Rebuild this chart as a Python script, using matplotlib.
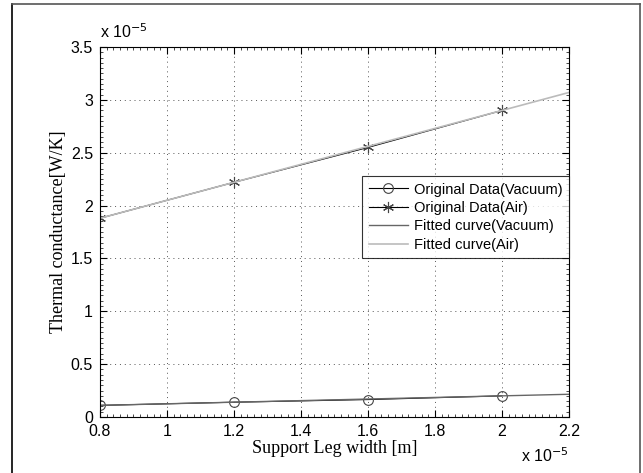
import numpy as np
import matplotlib.pyplot as plt
from matplotlib.lines import Line2D
from matplotlib.ticker import MultipleLocator

# data (x in 1e-5 m, y in 1e-5 W/K)
width = [0.8, 1.2, 1.6, 2.0]
g_vacuum = [0.11, 0.14, 0.165, 0.20]
g_air = [1.88, 2.22, 2.55, 2.90]

fit_x = [0.8, 2.2]
fit_vacuum = [0.11, 0.215]
fit_air = [1.88, 3.07]

plt.rcParams['font.family'] = ['Liberation Sans', 'DejaVu Sans']

fig = plt.figure(figsize=(6.43, 4.73), dpi=100)
ax = fig.add_axes([100 / 643, 1 - 417 / 473, 469 / 643, 370 / 473])

ax.plot(width, g_vacuum, color='black', lw=0.8, marker='o', ms=7,
        mfc='none', mec='#444444', mew=0.8, label='Original Data(Vacuum)')
ax.plot(width, g_air, color='black', lw=0.8, marker=(6, 2, 0), ms=8,
        mfc='none', mec='#444444', mew=0.8, label='Original Data(Air)')
ax.plot(fit_x, fit_vacuum, color='#666666', lw=1.0, label='Fitted curve(Vacuum)')
ax.plot(fit_x, fit_air, color='#bbbbbb', lw=1.2, label='Fitted curve(Air)')

ax.set_xlim(0.8, 2.2)
ax.set_ylim(0, 3.5)
ax.xaxis.set_major_locator(MultipleLocator(0.2))
ax.yaxis.set_major_locator(MultipleLocator(0.5))
ax.xaxis.set_minor_locator(MultipleLocator(0.02))
ax.yaxis.set_minor_locator(MultipleLocator(0.05))
ax.xaxis.set_major_formatter(plt.FuncFormatter(lambda v, p: f"{v:g}"))
ax.yaxis.set_major_formatter(plt.FuncFormatter(lambda v, p: f"{v:g}"))
ax.tick_params(which='both', direction='in', top=True, right=True, labelsize=11.5)
ax.tick_params(which='major', length=5, pad=5)
ax.tick_params(which='minor', length=2.5, width=0.5)
ax.grid(True, which='major', ls=(0, (1, 4)), color='#555555', lw=0.7)

for s in ax.spines.values():
    s.set_linewidth(0.8)

ax.set_xlabel('Support Leg width [m]', family='Liberation Serif', fontsize=13, labelpad=1)
ax.set_ylabel('Thermal conductance[W/K]', family='Liberation Serif', fontsize=13, labelpad=3)

ax.text(0, 1.015, r'x 10$^{-5}$', transform=ax.transAxes, fontsize=11.5, va='bottom')
ax.text(1, -0.08, r'x 10$^{-5}$', transform=ax.transAxes, fontsize=11.5, ha='right', va='top')

leg = ax.legend(loc='upper right', bbox_to_anchor=(1.0, (417 - 176) / 370),
                fontsize=10.5, frameon=True, fancybox=False, edgecolor='black',
                borderpad=0.45, labelspacing=0.3, handlelength=2.7, handletextpad=0.4,
                borderaxespad=0)
leg.get_frame().set_linewidth(0.8)

# outer frame
fig.add_artist(Line2D([12 / 643, 12 / 643], [0, 1 - 4 / 473], color='black', lw=1.2))
fig.add_artist(Line2D([12 / 643, 640 / 643], [1 - 4 / 473, 1 - 4 / 473], color='#555555', lw=1.2))
fig.add_artist(Line2D([640 / 643, 640 / 643], [0, 1 - 4 / 473], color='#555555', lw=1.2))

fig.savefig('out.png', dpi=100)
